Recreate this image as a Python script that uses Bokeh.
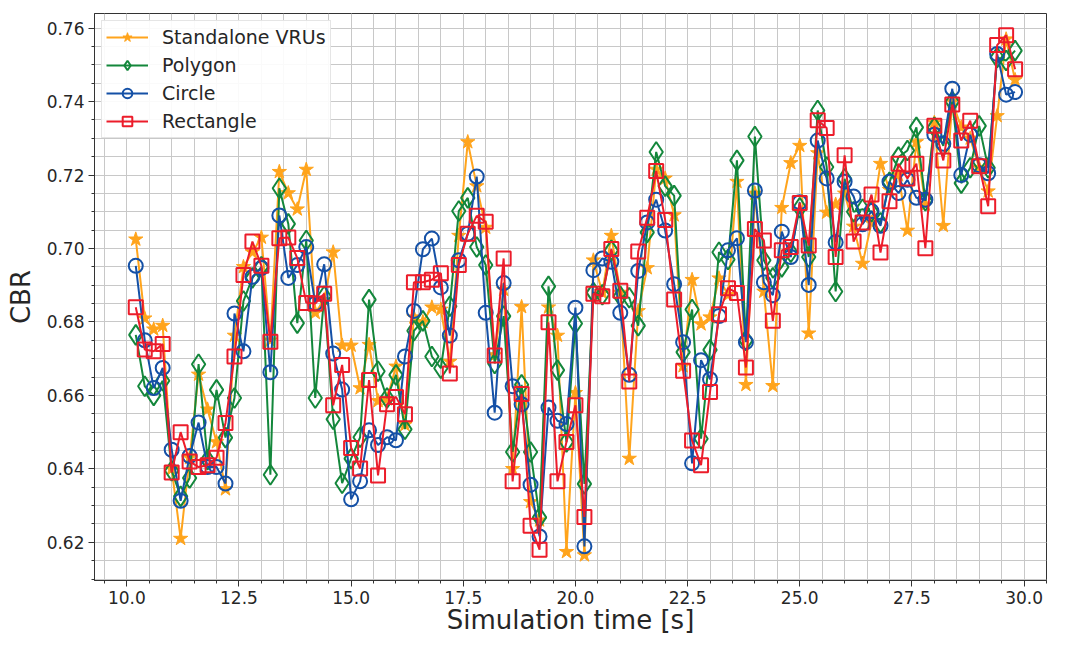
from bokeh.plotting import figure
from bokeh.models import Range1d, SingleIntervalTicker, PrintfTickFormatter, Legend, LegendItem
from bokeh.embed import file_html
from bokeh.resources import INLINE

# Simulation time samples (every 0.2 s from 10.2 s to 29.8 s)
time_s = [round(10.2 + 0.2 * i, 1) for i in range(99)]

standalone = [
    0.7025, 0.681, 0.678, 0.679, 0.640, 0.621, 0.643, 0.6657, 0.6562, 0.6473,
    0.6345, 0.6763, 0.695, 0.699, 0.703, 0.675, 0.7209, 0.7151, 0.7107, 0.7215,
    0.6825, 0.686, 0.699, 0.6736, 0.6736, 0.662, 0.6738, 0.6585, 0.659, 0.6679,
    0.652, 0.6813, 0.680, 0.684, 0.6834, 0.6692, 0.7035, 0.729, 0.717, 0.7057,
    0.671, 0.6888, 0.640, 0.6841, 0.631, 0.626, 0.684, 0.6763, 0.6174, 0.6607,
    0.6165, 0.6968, 0.688, 0.7035, 0.688, 0.6428, 0.683, 0.6947, 0.7215, 0.7191,
    0.7091, 0.668, 0.6915, 0.6794, 0.6813, 0.6919, 0.6874, 0.7182, 0.6629, 0.715,
    0.6883, 0.6626, 0.7111, 0.7233, 0.728, 0.6769, 0.726, 0.7098, 0.712, 0.715,
    0.706, 0.6959, 0.707, 0.7231, 0.716, 0.720, 0.7049, 0.729, 0.712, 0.7343,
    0.7062, 0.740, 0.733, 0.730, 0.722, 0.7156, 0.7361, 0.757, 0.7459,
]

polygon = [
    0.6765, 0.6625, 0.660, 0.664, 0.6395, 0.6325, 0.6375, 0.6685, 0.6425, 0.6615,
    0.6485, 0.6593, 0.6857, 0.692, 0.695, 0.6384, 0.7164, 0.7067, 0.6797, 0.7022,
    0.6593, 0.687, 0.6535, 0.6361, 0.6428, 0.6486, 0.6861, 0.6666, 0.6593, 0.6656,
    0.6508, 0.6776, 0.6803, 0.6706, 0.6674, 0.6843, 0.7102, 0.7138, 0.7004, 0.6955,
    0.6687, 0.6816, 0.6446, 0.6629, 0.6446, 0.6268, 0.6897, 0.6669, 0.6473, 0.6796,
    0.6359, 0.688, 0.6874, 0.6995, 0.687, 0.6866, 0.679, 0.7044, 0.7263, 0.717,
    0.7144, 0.6718, 0.6834, 0.6482, 0.6724, 0.699, 0.697, 0.724, 0.675, 0.7305,
    0.6968, 0.692, 0.695, 0.699, 0.7111, 0.6977, 0.7376, 0.7222, 0.6883, 0.719,
    0.710, 0.7107, 0.710, 0.707, 0.718, 0.7249, 0.7267, 0.733, 0.713, 0.733,
    0.728, 0.740, 0.7178, 0.722, 0.7334, 0.722, 0.752, 0.7512, 0.7539,
]

circle = [
    0.6953, 0.675, 0.662, 0.6675, 0.6452, 0.6313, 0.6435, 0.6526, 0.6405, 0.6405,
    0.636, 0.6823, 0.672, 0.6923, 0.6947, 0.6663, 0.709, 0.692, 0.6955, 0.7004,
    0.685, 0.6957, 0.6714, 0.6616, 0.6317, 0.6366, 0.6505, 0.6465, 0.6486, 0.6478,
    0.6706, 0.683, 0.6998, 0.7027, 0.6894, 0.6763, 0.6968, 0.704, 0.7196, 0.6825,
    0.6553, 0.6906, 0.6625, 0.6576, 0.6357, 0.6216, 0.6567, 0.6531, 0.6522, 0.6839,
    0.6189, 0.6941, 0.6973, 0.6964, 0.6825, 0.6656, 0.6939, 0.7071, 0.7133, 0.7049,
    0.6903, 0.6745, 0.6415, 0.6696, 0.6644, 0.6816, 0.6995, 0.7028, 0.6745, 0.7158,
    0.6908, 0.6873, 0.7046, 0.6977, 0.7126, 0.6901, 0.7294, 0.7191, 0.7017, 0.7182,
    0.7142, 0.7066, 0.7102, 0.7062, 0.7182, 0.7151, 0.7187, 0.7138, 0.7133, 0.731,
    0.7285, 0.7435, 0.720, 0.731, 0.7227, 0.7205, 0.753, 0.7419, 0.7426,
]

rectangle = [
    0.684, 0.6725, 0.672, 0.674, 0.639, 0.650, 0.642, 0.6405, 0.641, 0.643,
    0.6525, 0.6706, 0.6928, 0.7019, 0.6953, 0.6746, 0.7028, 0.703, 0.6974, 0.6852,
    0.685, 0.6877, 0.6573, 0.6683, 0.6457, 0.6401, 0.6642, 0.6382, 0.6576, 0.6596,
    0.6549, 0.6908, 0.6908, 0.6915, 0.6933, 0.666, 0.6955, 0.704, 0.7089, 0.7073,
    0.6709, 0.6973, 0.6366, 0.6604, 0.6245, 0.618, 0.6799, 0.6366, 0.6473, 0.6573,
    0.6269, 0.6877, 0.687, 0.6999, 0.6885, 0.6638, 0.6992, 0.7084, 0.7211, 0.7078,
    0.6861, 0.6667, 0.6477, 0.641, 0.6609, 0.6821, 0.6892, 0.6879, 0.6676, 0.7053,
    0.7022, 0.6803, 0.6995, 0.7004, 0.7124, 0.7008, 0.7349, 0.7328, 0.6977, 0.7254,
    0.7019, 0.7071, 0.7147, 0.6989, 0.7129, 0.7231, 0.7191, 0.7231, 0.7001, 0.7334,
    0.724, 0.7392, 0.7294, 0.7348, 0.7224, 0.7115, 0.7554, 0.7581, 0.7488,
]

series_names = ["Standalone VRUs", "Polygon", "Circle", "Rectangle"]
series_values = [standalone, polygon, circle, rectangle]
colors = ["#ffa41c", "#13873b", "#1450a6", "#ec1c2a"]
markers = ["star", "diamond", "circle", "square"]
marker_sizes = [15, 20, 14, 14]

FONT = "DejaVu Sans"
TXT = "#262626"

p = figure(width=1049, height=637, output_backend="svg", toolbar_location=None,
           x_range=Range1d(9.28, 30.5), y_range=Range1d(0.6096, 0.764),
           min_border_left=94, min_border_right=3, min_border_top=13, min_border_bottom=55,
           background_fill_color="white", border_fill_color="white")

p.xaxis.ticker = SingleIntervalTicker(interval=2.5, num_minor_ticks=5)
p.yaxis.ticker = SingleIntervalTicker(interval=0.02, num_minor_ticks=4)
p.xaxis.formatter = PrintfTickFormatter(format="%.1f")
p.yaxis.formatter = PrintfTickFormatter(format="%.2f")

for ax in (p.xaxis, p.yaxis):
    ax.major_tick_out = 6
    ax.major_tick_in = 0
    ax.minor_tick_out = 3
    ax.minor_tick_in = 0
    ax.axis_line_color = "#333333"
    ax.major_tick_line_color = "#333333"
    ax.minor_tick_line_color = "#333333"
    ax.major_label_text_font = FONT
    ax.major_label_text_font_size = "17px"
    ax.major_label_text_color = TXT
    ax.major_label_standoff = 4
    ax.axis_label_text_font = FONT
    ax.axis_label_text_font_size = "26px"
    ax.axis_label_text_font_style = "normal"
    ax.axis_label_text_color = TXT

p.xaxis.axis_label_standoff = -2
p.yaxis.axis_label_standoff = 8
p.xaxis.axis_label = "Simulation time [s]"
p.yaxis.axis_label = "CBR"

for g in (p.xgrid, p.ygrid):
    g.grid_line_color = "#c8c8c8"
    g.grid_line_width = 1
    g.minor_grid_line_color = "#c8c8c8"
    g.minor_grid_line_width = 1

p.outline_line_color = "#333333"
p.outline_line_width = 1

items = []
for name, vals, col, mk, sz in zip(series_names, series_values, colors, markers, marker_sizes):
    lr = p.line(time_s, vals, line_color=col, line_width=2)
    if mk == "star":
        sr = p.scatter(time_s, vals, marker=mk, size=sz, fill_color=col, line_color=col, line_width=1)
    else:
        sr = p.scatter(time_s, vals, marker=mk, size=sz, fill_alpha=0, line_color=col, line_width=2)
    items.append(LegendItem(label=name, renderers=[lr, sr]))

legend = Legend(items=items, location="top_left", margin=7,
                label_text_font=FONT, label_text_font_size="19px", label_text_color=TXT,
                glyph_width=42, glyph_height=24, label_height=24, spacing=4,
                label_standoff=14, padding=4,
                border_line_color="#cccccc", border_line_width=1,
                background_fill_color="white", background_fill_alpha=0.9)
p.add_layout(legend)

open("out.html", "w").write(file_html(p, INLINE))
